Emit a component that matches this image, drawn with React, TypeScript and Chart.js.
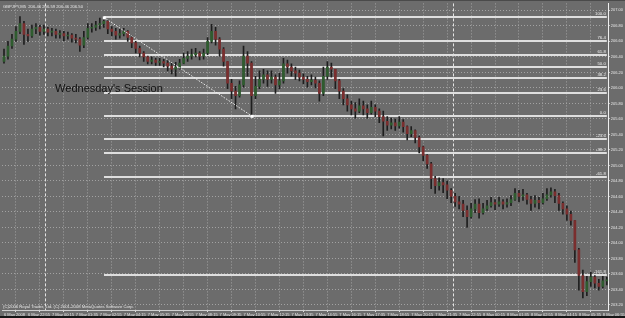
import React, { useEffect, useRef } from "react";
import { Chart, registerables } from "chart.js";

Chart.register(...registerables);

// ---------------- data ----------------
const SYMBOL_TITLE = "GBPJPY,M5  206.46 206.59 206.46 206.50";
const COPYRIGHT = "(C)2006 Royal Trader, Ltd. (C) 2001-2008 MetaQuotes Software Corp.";
const NOTE_TEXT = "Wednesday's Session";
const NOTE_INDEX = 12.8;
const NOTE_PRICE = 205.98;

const FIRST_OPEN = 206.34;
const CLOSE = [
  206.41, 206.54, 206.63, 206.73, 206.83, 206.69, 206.67, 206.76, 206.78, 206.73,
  206.76, 206.72, 206.73, 206.69, 206.70, 206.67, 206.68, 206.64, 206.63, 206.55,
  206.65, 206.77, 206.78, 206.81, 206.83, 206.86, 206.76, 206.73, 206.68, 206.70,
  206.73, 206.65, 206.58, 206.51, 206.45, 206.40, 206.34, 206.36, 206.33, 206.34,
  206.32, 206.28, 206.24, 206.27, 206.32, 206.38, 206.41, 206.43, 206.45, 206.41,
  206.45, 206.60, 206.73, 206.63, 206.50, 206.34, 206.06, 205.96, 205.90, 206.04,
  206.41, 206.32, 205.90, 206.02, 206.11, 206.17, 206.11, 206.14, 206.04, 206.09,
  206.31, 206.27, 206.22, 206.19, 206.14, 206.11, 206.08, 206.10, 206.06, 205.93,
  206.15, 206.27, 206.24, 206.09, 205.96, 205.86, 205.78, 205.73, 205.70, 205.77,
  205.73, 205.68, 205.75, 205.70, 205.63, 205.57, 205.52, 205.55, 205.51, 205.56,
  205.50, 205.41, 205.45, 205.36, 205.24, 205.13, 205.02, 204.83, 204.74, 204.78,
  204.75, 204.68, 204.60, 204.53, 204.50, 204.42, 204.34, 204.44, 204.50, 204.39,
  204.44, 204.48, 204.52, 204.50, 204.53, 204.50, 204.52, 204.56, 204.64, 204.60,
  204.62, 204.56, 204.51, 204.55, 204.52, 204.57, 204.62, 204.66, 204.61, 204.51,
  204.44, 204.37, 204.29, 203.91, 203.58, 203.37, 203.50, 203.56, 203.48, 203.44,
  203.51, 203.52,
];
const HIGH = [
  206.50, 206.60, 206.69, 206.79, 206.92, 206.86, 206.76, 206.81, 206.83, 206.81,
  206.81, 206.78, 206.77, 206.76, 206.74, 206.73, 206.72, 206.70, 206.69, 206.65,
  206.73, 206.83, 206.83, 206.86, 206.90, 206.91, 206.87, 206.79, 206.77, 206.76,
  206.77, 206.74, 206.67, 206.60, 206.54, 206.47, 206.41, 206.40, 206.38, 206.38,
  206.37, 206.36, 206.32, 206.33, 206.37, 206.45, 206.47, 206.50, 206.51, 206.47,
  206.50, 206.65, 206.82, 206.78, 206.65, 206.52, 206.34, 206.11, 206.02, 206.09,
  206.54, 206.47, 206.34, 206.15, 206.22, 206.24, 206.22, 206.22, 206.17, 206.19,
  206.38, 206.36, 206.31, 206.27, 206.23, 206.18, 206.15, 206.17, 206.14, 206.09,
  206.27, 206.34, 206.32, 206.24, 206.11, 205.99, 205.91, 205.83, 205.81, 205.86,
  205.83, 205.78, 205.83, 205.78, 205.73, 205.70, 205.63, 205.61, 205.60, 205.63,
  205.59, 205.51, 205.50, 205.46, 205.38, 205.25, 205.14, 205.04, 204.86, 204.84,
  204.83, 204.80, 204.70, 204.64, 204.60, 204.55, 204.48, 204.51, 204.56, 204.57,
  204.51, 204.55, 204.59, 204.56, 204.59, 204.56, 204.57, 204.61, 204.70, 204.68,
  204.69, 204.64, 204.60, 204.61, 204.59, 204.64, 204.70, 204.71, 204.69, 204.64,
  204.53, 204.48, 204.41, 204.29, 203.93, 203.65, 203.57, 203.62, 203.58, 203.53,
  203.57, 203.56,
];
const LOW = [
  206.32, 206.37, 206.51, 206.60, 206.70, 206.56, 206.60, 206.65, 206.70, 206.68,
  206.69, 206.67, 206.67, 206.64, 206.64, 206.61, 206.63, 206.59, 206.58, 206.47,
  206.52, 206.63, 206.72, 206.74, 206.76, 206.78, 206.70, 206.67, 206.63, 206.64,
  206.67, 206.60, 206.52, 206.45, 206.40, 206.34, 206.31, 206.31, 206.29, 206.29,
  206.27, 206.22, 206.18, 206.15, 206.24, 206.31, 206.34, 206.37, 206.40, 206.36,
  206.37, 206.43, 206.58, 206.55, 206.41, 206.28, 205.99, 205.86, 205.73, 205.88,
  206.01, 206.15, 205.64, 205.86, 205.99, 206.06, 206.02, 206.06, 205.93, 205.99,
  206.06, 206.19, 206.15, 206.11, 206.09, 206.05, 206.01, 206.04, 206.00, 205.83,
  205.90, 206.11, 206.14, 205.99, 205.86, 205.78, 205.70, 205.65, 205.61, 205.68,
  205.65, 205.61, 205.66, 205.63, 205.55, 205.38, 205.45, 205.47, 205.45, 205.48,
  205.43, 205.33, 205.37, 205.29, 205.16, 205.06, 204.96, 204.70, 204.64, 204.68,
  204.65, 204.57, 204.52, 204.47, 204.44, 204.34, 204.20, 204.32, 204.39, 204.32,
  204.37, 204.42, 204.46, 204.43, 204.47, 204.44, 204.46, 204.48, 204.55, 204.53,
  204.55, 204.50, 204.42, 204.46, 204.44, 204.50, 204.55, 204.59, 204.52, 204.42,
  204.37, 204.29, 204.23, 203.75, 203.39, 203.29, 203.32, 203.44, 203.42, 203.39,
  203.42, 203.46,
];

const X_LABEL_STEP = 6;
const X_LABELS = [
  "6 May 2008", "6 May 22:55", "7 May 00:15", "7 May 01:35", "7 May 02:55",
  "7 May 04:15", "7 May 05:35", "7 May 06:55", "7 May 08:15", "7 May 09:35",
  "7 May 10:55", "7 May 12:15", "7 May 13:35", "7 May 14:55", "7 May 16:15",
  "7 May 17:35", "7 May 18:55", "7 May 20:15", "7 May 21:35", "7 May 22:55",
  "8 May 00:15", "8 May 01:35", "8 May 02:55", "8 May 04:15", "8 May 05:35",
  "8 May 06:55",
];
const Y_TICKS = [
  207.0, 206.8, 206.6, 206.4, 206.2, 206.0, 205.8, 205.6, 205.4, 205.2,
  205.0, 204.8, 204.6, 204.4, 204.2, 204.0, 203.8, 203.6, 203.4, 203.2,
];
const Y_MIN = 203.135;
const Y_MAX = 207.09;

const FIB_HIGH = 206.91;
const FIB_LOW = 205.64;
const FIB_HIGH_INDEX = 25;
const FIB_LOW_INDEX = 62;
const FIB_LEVELS = [100, 76.4, 61.8, 50, 38.2, 23.6, 0, -23.6, -38.2, -61.8, -161.8];
const DAY_SEPARATORS = [10.3, 112.4];

// ---------------- styles ----------------
const BG = "#6c6c6c";
const GRID = "#a2a2a2";
const AXIS_TEXT = "#e6e6e6";
const BULL = "#2f5c2f";
const BEAR = "#7a2e2e";
const WICK = "#1e1e1e";
const FIB_COLOR = "#dedede";
const SMALL_FONT = "'Liberation Sans', Arial, sans-serif";

export default function App() {
  const ref = useRef<HTMLCanvasElement | null>(null);

  useEffect(() => {
    document.body.style.margin = "0";
    const canvas = ref.current;
    if (!canvas) return;

    const opens = CLOSE.map((_, i) => (i === 0 ? FIRST_OPEN : CLOSE[i - 1]));
    const wicks = CLOSE.map((_, i) => ({ x: i, y: [LOW[i], HIGH[i]] }));
    const bodies = CLOSE.map((c, i) => ({ x: i, y: [opens[i], c] }));
    const bodyColors = CLOSE.map((c, i) => (c >= opens[i] ? BULL : BEAR));

    const overlay = {
      id: "mt4overlay",
      beforeDraw(chart: any) {
        const { ctx, width, height } = chart;
        ctx.save();
        ctx.fillStyle = BG;
        ctx.fillRect(0, 0, width, height);
        ctx.restore();
      },
      beforeDatasetsDraw(chart: any) {
        const { ctx, chartArea, scales } = chart;
        const xs = scales.x;
        const ys = scales.y;
        ctx.save();
        ctx.strokeStyle = "#e4e4e4";
        ctx.lineWidth = 1;
        ctx.setLineDash([3, 2]);
        DAY_SEPARATORS.forEach((v) => {
          const px = Math.round(xs.getPixelForValue(v)) + 0.5;
          ctx.beginPath();
          ctx.moveTo(px, chartArea.top);
          ctx.lineTo(px, chartArea.bottom);
          ctx.stroke();
        });
        ctx.setLineDash([]);
        const x0 = Math.round(xs.getPixelForValue(FIB_HIGH_INDEX));
        const x1 = chartArea.right - 2;
        ctx.strokeStyle = FIB_COLOR;
        ctx.lineWidth = 2;
        ctx.fillStyle = "#f0f0f0";
        ctx.font = `4.3px ${SMALL_FONT}`;
        ctx.textAlign = "right";
        ctx.textBaseline = "bottom";
        FIB_LEVELS.forEach((lvl) => {
          const price = FIB_LOW + ((FIB_HIGH - FIB_LOW) * lvl) / 100;
          const py = Math.round(ys.getPixelForValue(price));
          ctx.beginPath();
          ctx.moveTo(x0, py);
          ctx.lineTo(x1, py);
          ctx.stroke();
          ctx.fillText(lvl.toFixed(1), x1 - 1, py - 1);
        });
        ctx.restore();
      },
      afterDatasetsDraw(chart: any) {
        const { ctx, scales } = chart;
        const xs = scales.x;
        const ys = scales.y;
        ctx.save();
        const ax = xs.getPixelForValue(FIB_HIGH_INDEX);
        const ay = ys.getPixelForValue(FIB_HIGH);
        const bx = xs.getPixelForValue(FIB_LOW_INDEX);
        const by = ys.getPixelForValue(FIB_LOW);
        ctx.strokeStyle = "#f2f2f2";
        ctx.lineWidth = 1;
        ctx.setLineDash([1.5, 1.5]);
        ctx.beginPath();
        ctx.moveTo(ax, ay);
        ctx.lineTo(bx, by);
        ctx.stroke();
        ctx.setLineDash([]);
        ctx.fillStyle = "#ffffff";
        ctx.fillRect(ax - 1, ay - 1, 3, 3);
        ctx.fillRect(bx - 1, by - 1, 3, 3);
        ctx.fillStyle = "#111111";
        ctx.font = `11px ${SMALL_FONT}`;
        ctx.textAlign = "left";
        ctx.textBaseline = "middle";
        ctx.fillText(NOTE_TEXT, xs.getPixelForValue(NOTE_INDEX), ys.getPixelForValue(NOTE_PRICE));
        ctx.restore();
      },
      afterDraw(chart: any) {
        const { ctx, chartArea, width, height } = chart;
        ctx.save();
        ctx.fillStyle = AXIS_TEXT;
        ctx.font = `4.2px ${SMALL_FONT}`;
        ctx.textAlign = "left";
        ctx.textBaseline = "top";
        ctx.fillText(SYMBOL_TITLE, chartArea.left + 1, chartArea.top + 1);
        ctx.textBaseline = "bottom";
        ctx.fillText(COPYRIGHT, chartArea.left + 1, chartArea.bottom - 1);
        ctx.fillStyle = "#161616";
        ctx.fillRect(0, height - 2, width, 2);
        ctx.fillStyle = "#4a4a4a";
        ctx.fillRect(0, 0, width, 1);
        ctx.restore();
      },
    };

    const chart = new Chart(canvas, {
      type: "bar",
      data: {
        datasets: [
          {
            data: bodies as any,
            backgroundColor: bodyColors,
            borderWidth: 0,
            barThickness: 2,
            minBarLength: 1,
            grouped: false,
            order: 1,
          } as any,
          {
            data: wicks as any,
            backgroundColor: WICK,
            borderWidth: 0,
            barThickness: 1,
            grouped: false,
            order: 2,
          } as any,
        ],
      },
      options: {
        animation: false,
        responsive: false,
        devicePixelRatio: 1,
        events: [],
        layout: { padding: { left: 2, top: 2, right: 0, bottom: 0 }, autoPadding: false } as any,
        plugins: { legend: { display: false }, tooltip: { enabled: false }, title: { display: false } },
        scales: {
          x: {
            type: "linear",
            min: -0.5,
            max: CLOSE.length - 0.5,
            offset: false,
            afterBuildTicks: (scale: any) => {
              scale.ticks = X_LABELS.map((_, k) => ({ value: k * X_LABEL_STEP }));
            },
            afterFit: (scale: any) => {
              scale.height = 8;
            },
            ticks: {
              autoSkip: false,
              maxRotation: 0,
              minRotation: 0,
              align: "start",
              padding: 0,
              color: AXIS_TEXT,
              font: { size: 4, family: SMALL_FONT },
              callback: (_v: any, index: number) => X_LABELS[index],
            },
            grid: { color: GRID, lineWidth: 1, tickLength: 2, tickColor: "#dddddd" },
            border: { display: true, color: "#cfcfcf", width: 1, dash: [1, 2] },
          } as any,
          y: {
            type: "linear",
            position: "right",
            min: Y_MIN,
            max: Y_MAX,
            afterBuildTicks: (scale: any) => {
              scale.ticks = Y_TICKS.map((v) => ({ value: v }));
            },
            afterFit: (scale: any) => {
              scale.width = 16;
            },
            ticks: {
              padding: 1,
              color: AXIS_TEXT,
              font: { size: 4, family: SMALL_FONT },
              callback: (v: any) => Number(v).toFixed(2),
            },
            grid: { color: GRID, lineWidth: 1, tickLength: 1, tickColor: "#dddddd" },
            border: { display: true, color: "#eeeeee", width: 1, dash: [1, 2] },
          } as any,
        },
      },
      plugins: [overlay],
    });

    return () => chart.destroy();
  }, []);

  return (
    <div style={{ position: "fixed", left: 0, top: 0, width: 625, height: 318, background: BG }}>
      <canvas ref={ref} width={625} height={318} style={{ display: "block" }} />
    </div>
  );
}
